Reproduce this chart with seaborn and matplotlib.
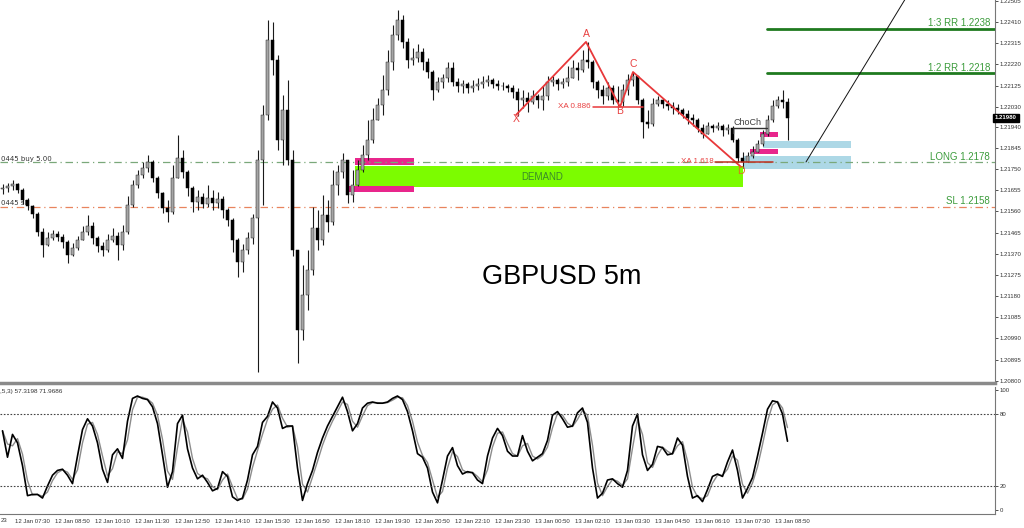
import numpy as np
import pandas as pd
import matplotlib
matplotlib.use("Agg")
import matplotlib.pyplot as plt
import matplotlib.transforms as mtrans
import seaborn as sns

sns.set_theme(style="white")
plt.rcParams['font.family'] = ['DejaVu Sans']

# ---------------- data (10-minute resampled candles) ----------------
first_open = 1.21660
closes = [1.21665, 1.21674, 1.21683, 1.21656, 1.21612, 1.21585, 1.21549, 1.21468, 1.21410, 1.21441,
          1.21459, 1.21446, 1.21423, 1.21365, 1.21396, 1.21432, 1.21468, 1.21495, 1.21441, 1.21405,
          1.21387, 1.21432, 1.21450, 1.21410, 1.21468, 1.21589, 1.21679, 1.21724, 1.21755, 1.21782,
          1.21710, 1.21643, 1.21576, 1.21558, 1.21710, 1.21800, 1.21737, 1.21665, 1.21603, 1.21625,
          1.21594, 1.21621, 1.21598, 1.21616, 1.21567, 1.21522, 1.21432, 1.21333, 1.21387, 1.21441,
          1.21531, 1.21791, 1.21993, 1.22330, 1.22240, 1.21881, 1.22015, 1.21791, 1.21387, 1.21028,
          1.21185, 1.21297, 1.21486, 1.21432, 1.21544, 1.21513, 1.21679, 1.21737, 1.21791, 1.21634,
          1.21679, 1.21746, 1.21814, 1.21881, 1.21971, 1.22038, 1.22105, 1.22231, 1.22352, 1.22419,
          1.22321, 1.22240, 1.22249, 1.22276, 1.22231, 1.22186, 1.22105, 1.22141, 1.22159, 1.22204,
          1.22141, 1.22123, 1.22132, 1.22114, 1.22123, 1.22132, 1.22141, 1.22150, 1.22132, 1.22123,
          1.22123, 1.22114, 1.22096, 1.22060, 1.22069, 1.22051, 1.22078, 1.22060, 1.22078, 1.22141,
          1.22150, 1.22132, 1.22141, 1.22159, 1.22204, 1.22195, 1.22240, 1.22231, 1.22141, 1.22105,
          1.22078, 1.22114, 1.22060, 1.22051, 1.22105, 1.22150, 1.22168, 1.22060, 1.21962, 1.21953,
          1.22042, 1.22060, 1.22042, 1.22033, 1.22024, 1.22015, 1.21998, 1.21980, 1.21971, 1.21935,
          1.21908, 1.21944, 1.21935, 1.21944, 1.21926, 1.21935, 1.21881, 1.21800, 1.21782, 1.21809,
          1.21827, 1.21863, 1.21908, 1.21971, 1.22033, 1.22060, 1.22051, 1.21980]
highs = [1.21683, 1.21688, 1.21701, 1.21688, 1.21665, 1.21621, 1.21589, 1.21558, 1.21486, 1.21468,
         1.21477, 1.21472, 1.21459, 1.21432, 1.21419, 1.21450, 1.21495, 1.21544, 1.21513, 1.21450,
         1.21423, 1.21459, 1.21486, 1.21468, 1.21499, 1.21630, 1.21701, 1.21746, 1.21782, 1.21814,
         1.21791, 1.21719, 1.21647, 1.21612, 1.21769, 1.21903, 1.21836, 1.21746, 1.21674, 1.21656,
         1.21643, 1.21679, 1.21656, 1.21647, 1.21630, 1.21576, 1.21531, 1.21441, 1.21414, 1.21468,
         1.21549, 1.21836, 1.22038, 1.22419, 1.22410, 1.22262, 1.22083, 1.22150, 1.21836, 1.21387,
         1.21320, 1.21387, 1.21580, 1.21567, 1.21634, 1.21612, 1.21746, 1.21769, 1.21822, 1.21791,
         1.21746, 1.21791, 1.21858, 1.21971, 1.22024, 1.22069, 1.22173, 1.22285, 1.22397, 1.22464,
         1.22442, 1.22339, 1.22294, 1.22312, 1.22294, 1.22249, 1.22195, 1.22164, 1.22177, 1.22231,
         1.22231, 1.22159, 1.22150, 1.22141, 1.22150, 1.22159, 1.22168, 1.22173, 1.22159, 1.22150,
         1.22141, 1.22132, 1.22128, 1.22114, 1.22105, 1.22096, 1.22105, 1.22087, 1.22123, 1.22168,
         1.22168, 1.22159, 1.22159, 1.22213, 1.22240, 1.22231, 1.22285, 1.22321, 1.22240, 1.22150,
         1.22128, 1.22141, 1.22128, 1.22123, 1.22132, 1.22177, 1.22186, 1.22168, 1.22069, 1.22015,
         1.22069, 1.22078, 1.22069, 1.22060, 1.22051, 1.22042, 1.22024, 1.22015, 1.21998, 1.21980,
         1.21953, 1.21962, 1.21953, 1.21962, 1.21953, 1.21953, 1.21944, 1.21890, 1.21827, 1.21827,
         1.21854, 1.21881, 1.21926, 1.21993, 1.22060, 1.22078, 1.22105, 1.22069]
lows = [1.21638, 1.21647, 1.21656, 1.21643, 1.21594, 1.21567, 1.21531, 1.21450, 1.21356, 1.21405,
        1.21432, 1.21428, 1.21396, 1.21329, 1.21360, 1.21387, 1.21432, 1.21455, 1.21414, 1.21378,
        1.21360, 1.21378, 1.21423, 1.21342, 1.21387, 1.21459, 1.21580, 1.21665, 1.21710, 1.21737,
        1.21692, 1.21621, 1.21553, 1.21513, 1.21549, 1.21755, 1.21710, 1.21630, 1.21558, 1.21567,
        1.21576, 1.21580, 1.21567, 1.21576, 1.21531, 1.21495, 1.21378, 1.21266, 1.21288, 1.21369,
        1.21414, 1.20840, 1.21589, 1.21971, 1.22173, 1.21836, 1.21769, 1.21769, 1.21360, 1.20880,
        1.20983, 1.21118, 1.21275, 1.21387, 1.21410, 1.21468, 1.21499, 1.21634, 1.21710, 1.21598,
        1.21603, 1.21674, 1.21737, 1.21791, 1.21867, 1.21971, 1.21993, 1.22083, 1.22195, 1.22330,
        1.22294, 1.22204, 1.22217, 1.22231, 1.22195, 1.22159, 1.22060, 1.22096, 1.22114, 1.22141,
        1.22123, 1.22096, 1.22092, 1.22092, 1.22096, 1.22105, 1.22114, 1.22123, 1.22114, 1.22105,
        1.22105, 1.22096, 1.22069, 1.21989, 1.22024, 1.22006, 1.22042, 1.22024, 1.22015, 1.22060,
        1.22123, 1.22105, 1.22114, 1.22123, 1.22159, 1.22150, 1.22186, 1.22204, 1.22114, 1.22069,
        1.22042, 1.22060, 1.22042, 1.22024, 1.22033, 1.22083, 1.22123, 1.22042, 1.21890, 1.21935,
        1.21944, 1.22033, 1.22024, 1.22015, 1.21998, 1.21998, 1.21980, 1.21953, 1.21944, 1.21917,
        1.21890, 1.21908, 1.21917, 1.21926, 1.21899, 1.21908, 1.21872, 1.21782, 1.21755, 1.21782,
        1.21800, 1.21827, 1.21854, 1.21899, 1.21962, 1.22024, 1.22024, 1.21881]
stoch_k = [66, 44, 63, 56, 37, 12, 13, 13, 10, 20, 29, 33, 34, 29, 22, 45, 67, 76, 70, 56,
           34, 23, 46, 51, 43, 74, 93, 95, 93, 92, 86, 72, 46, 19, 32, 72, 79, 51, 35, 26,
           29, 23, 16, 18, 32, 28, 11, 8, 10, 25, 46, 53, 73, 78, 90, 85, 68, 70, 70, 35,
           8, 22, 33, 48, 60, 70, 78, 86, 94, 82, 66, 72, 85, 89, 90, 89, 89, 90, 93, 95,
           92, 82, 66, 47, 44, 35, 15, 6, 25, 45, 52, 37, 30, 32, 31, 25, 22, 45, 60, 68,
           62, 49, 45, 45, 62, 49, 41, 44, 47, 58, 79, 82, 76, 69, 70, 81, 85, 73, 35, 10,
           14, 25, 26, 22, 19, 33, 70, 80, 46, 33, 38, 53, 52, 46, 47, 60, 54, 28, 10, 12,
           7, 17, 28, 30, 28, 40, 50, 33, 10, 18, 27, 45, 64, 84, 91, 90, 80, 57.32]

time_labels = ["12 Jan 07:30", "12 Jan 08:50", "12 Jan 10:10", "12 Jan 11:30", "12 Jan 12:50",
               "12 Jan 14:10", "12 Jan 15:30", "12 Jan 16:50", "12 Jan 18:10", "12 Jan 19:30",
               "12 Jan 20:50", "12 Jan 22:10", "12 Jan 23:30", "13 Jan 00:50", "13 Jan 02:10",
               "13 Jan 03:30", "13 Jan 04:50", "13 Jan 06:10", "13 Jan 07:30", "13 Jan 08:50"]
first_label_tail = "23"
price_ticks = [1.22505, 1.22410, 1.22315, 1.22220, 1.22125, 1.22030, 1.21940, 1.21845, 1.21750,
               1.21655, 1.21560, 1.21465, 1.21370, 1.21275, 1.21180, 1.21085, 1.20990, 1.20895, 1.20800]
stoch_ticks = [0, 20, 80, 100]

long_price = 1.2178
sl_price = 1.2158
rr2_price = 1.2218
rr3_price = 1.2238
current_price = 1.21980
demand_zone = (1.21670, 1.21764)
harm_labels = ["X", "A", "B", "C", "D"]
harm_bar = [102.7, 116.7, 123.5, 126.1, 147.7]
harm_price = [1.21993, 1.22321, 1.22029, 1.22186, 1.21760]
xa886_price = 1.22029
xa1618_price = 1.21782
choch_price = 1.21935
trend_bar = [160.7, 181.0]
trend_price = [1.21782, 1.22530]

# ---------------- figure ----------------
W, H = 1024, 528
SMALL = dict(family="Liberation Sans", size=4.3)
fig = plt.figure(figsize=(W / 100, H / 100), dpi=100)
fig.patch.set_facecolor("white")
ax = fig.add_axes([0, 1 - 383 / H, 995 / W, 383 / H])
ax2 = fig.add_axes([0, 1 - 514 / H, 995 / W, (514 - 387) / H])
XL = (-0.5, 198.5)
for a in (ax, ax2):
    a.set_facecolor("white")
    a.set_xlim(*XL)
ax.set_ylim(1.20790, 1.22509)
ax2.set_ylim(-3.3, 102.5)

n = len(closes)
idx = np.arange(n)
c = np.array(closes)
o = np.concatenate([[first_open], c[:-1]])
hi = np.maximum(np.array(highs), np.maximum(o, c))
lo = np.minimum(np.array(lows), np.minimum(o, c))
up = c >= o

# zones (behind candles)
ax.axhspan(demand_zone[0], demand_zone[1], xmin=(70.5 - XL[0]) / (XL[1] - XL[0]),
           xmax=(148.1 - XL[0]) / (XL[1] - XL[0]), color="#7cfc00", lw=0, zorder=1)
ax.text(107.9, 1.21715, "DEMAND", color="#3a8a2a", fontsize=7, family="Liberation Sans",
        ha="center", va="center", zorder=2)
ax.fill_between([70.5, 82.3], 1.21768, 1.21800, color="#e8268c", lw=0, zorder=2)
ax.fill_between([69.3, 82.3], 1.21647, 1.21672, color="#e8268c", lw=0, zorder=2)
ax.fill_between([152.1, 169.7], 1.21845, 1.21876, color="#add8e6", lw=0, zorder=1)
ax.fill_between([148.1, 169.7], 1.21751, 1.21809, color="#add8e6", lw=0, zorder=1)
ax.fill_between([151.5, 155.1], 1.21894, 1.21917, color="#e8268c", lw=0, zorder=2)
ax.fill_between([149.5, 155.1], 1.21818, 1.21840, color="#e8268c", lw=0, zorder=2)

# level lines
ax.axhline(long_price, color="#7aa87a", lw=0.9, ls=(0, (6, 3, 1, 3)), zorder=2)
ax.axhline(sl_price, color="#e8845e", lw=0.9, ls=(0, (6, 3, 1, 3)), zorder=2)
ax.text(-0.3, long_price + 0.00004, "0445 buy 5.00", fontsize=5, color="#333333", va="bottom", ha="left")
ax.text(-0.3, sl_price + 0.00004, "0445 sl", fontsize=5, color="#333333", va="bottom", ha="left")
ax.plot([152.9, XL[1]], [rr2_price, rr2_price], color="#1f7a1f", lw=2, zorder=2)
ax.plot([152.9, XL[1]], [rr3_price, rr3_price], color="#1f7a1f", lw=2, zorder=2)
lab_kw = dict(fontsize=7, family="Liberation Sans", color="#3c9c3c", ha="right", va="bottom")
ax.text(197.5, rr3_price + 0.00003, "1:3 RR 1.2238", **lab_kw)
ax.text(197.5, rr2_price + 0.00003, "1:2 RR 1.2218", **lab_kw)
ax.text(197.5, long_price + 0.00003, "LONG 1.2178", **lab_kw)
ax.text(197.5, sl_price + 0.00003, "SL 1.2158", **lab_kw)

# candles
ax.vlines(idx, lo, hi, color="#1a1a1a", lw=0.8, zorder=3)
ax.bar(idx[up], (c - o)[up], bottom=o[up], width=0.62, color="#a6a6a6", edgecolor="#222222",
       linewidth=0.35, zorder=4)
ax.bar(idx[~up], (c - o)[~up], bottom=o[~up], width=0.62, color="#000000", edgecolor="#000000",
       linewidth=0.35, zorder=4)

# harmonic pattern
harm_df = pd.DataFrame({"bar": harm_bar, "price": harm_price})
sns.lineplot(data=harm_df, x="bar", y="price", sort=False, ax=ax, color="#e8383a", lw=1.3, zorder=5)
offs = [-0.00040, 0.00012, -0.00040, 0.00012, -0.00040]
for lab, b, p, dd in zip(harm_labels, harm_bar, harm_price, offs):
    ax.text(b, p + dd, lab, fontsize=7.5, family="Liberation Sans",
            color="#e07020" if lab == "D" else "#e84040", ha="center", va="bottom", zorder=6)
ax.plot([118.1, 128.1], [xa886_price, xa886_price], color="#e8383a", lw=1.1, zorder=5)
ax.text(117.6, xa886_price, "XA 0.886", fontsize=5.8, family="Liberation Sans", color="#e84040",
        ha="right", va="center", zorder=6)
ax.plot([142.5, 154.1], [xa1618_price, xa1618_price], color="#c03020", lw=1.1, zorder=5)
ax.text(142.2, xa1618_price, "XA 1.618", fontsize=5.8, family="Liberation Sans", color="#e84040",
        ha="right", va="center", zorder=6)
ax.plot([146.1, 152.9], [choch_price, choch_price], color="#333333", lw=1.0, zorder=5)
ax.plot([146.1, 146.1], [choch_price, choch_price - 0.00022], color="#333333", lw=1.0, zorder=5)
ax.text(146.1, choch_price + 0.00005, "ChoCh", fontsize=6.5, family="Liberation Sans",
        color="#404040", ha="left", va="bottom", zorder=6)
ax.plot(trend_bar, trend_price, color="#111111", lw=0.7, zorder=5)

ax.text(111.9, 1.21266, "GBPUSD 5m", fontsize=19.5, family="Liberation Sans", color="black",
        ha="center", va="center")

# main axis styling
ax.yaxis.tick_right()
ax.set_yticks(price_ticks)
ax.set_yticklabels([f"{p:.5f}" for p in price_ticks], fontdict=SMALL)
ax.set_xticks([])
ax.tick_params(axis="y", colors="#333333", length=2, pad=1.5, width=0.6)
for s in ("top", "left"):
    ax.spines[s].set_visible(False)
ax.spines["right"].set_color("#777777")
ax.spines["right"].set_linewidth(0.8)
ax.spines["bottom"].set_color("#8a8a8a")
ax.spines["bottom"].set_linewidth(2.5)
ax.set_xlabel("")
ax.set_ylabel("")
tr = mtrans.blended_transform_factory(ax.transAxes, ax.transData)
ax.text(1.0, current_price, "1.21980", transform=tr, color="white", ha="left",
        va="center", bbox=dict(boxstyle="square,pad=0.3", fc="black", ec="black"), clip_on=False,
        **{"family": "Liberation Sans", "fontsize": 4.3, "fontweight": "bold"})

# stochastic pane
k = pd.Series(stoch_k, dtype=float)
d = k.rolling(2, min_periods=1).mean()
st_df = pd.DataFrame({"bar": idx, "K": k, "D": d})
sns.lineplot(data=st_df, x="bar", y="D", ax=ax2, color="#8c8c8c", lw=1.0)
sns.lineplot(data=st_df, x="bar", y="K", ax=ax2, color="#000000", lw=1.2)
ax2.axhline(80, color="#444444", lw=0.8, ls=(0, (1.5, 1.5)))
ax2.axhline(20, color="#444444", lw=0.8, ls=(0, (1.5, 1.5)))
ax2.text(0.0, 0.985, ",5,3) 57.3198 71.9686", transform=ax2.transAxes, family="Liberation Sans",
         fontsize=4.6, color="#333333", ha="left", va="top")
ax2.yaxis.tick_right()
ax2.set_yticks(stoch_ticks)
ax2.set_yticklabels([str(v) for v in stoch_ticks], fontdict=SMALL)
ax2.set_xticks([2.5 + 8 * i for i in range(len(time_labels))])
ax2.set_xticklabels(time_labels, ha="left", fontdict=SMALL)
ax2.tick_params(axis="y", colors="#333333", length=2, pad=1.5, width=0.6)
ax2.tick_params(axis="x", colors="#333333", length=2, pad=1.5, width=0.6)
for s in ("top", "left"):
    ax2.spines[s].set_visible(False)
for s in ("right", "bottom"):
    ax2.spines[s].set_color("#777777")
    ax2.spines[s].set_linewidth(0.8)
ax2.set_xlabel("")
ax2.set_ylabel("")
fig.text(1 / W, 1 - 520 / H, first_label_tail, color="#333333", ha="left", va="center",
         family="Liberation Sans", fontsize=4.3)

fig.savefig("out.png", dpi=100, facecolor="white")
